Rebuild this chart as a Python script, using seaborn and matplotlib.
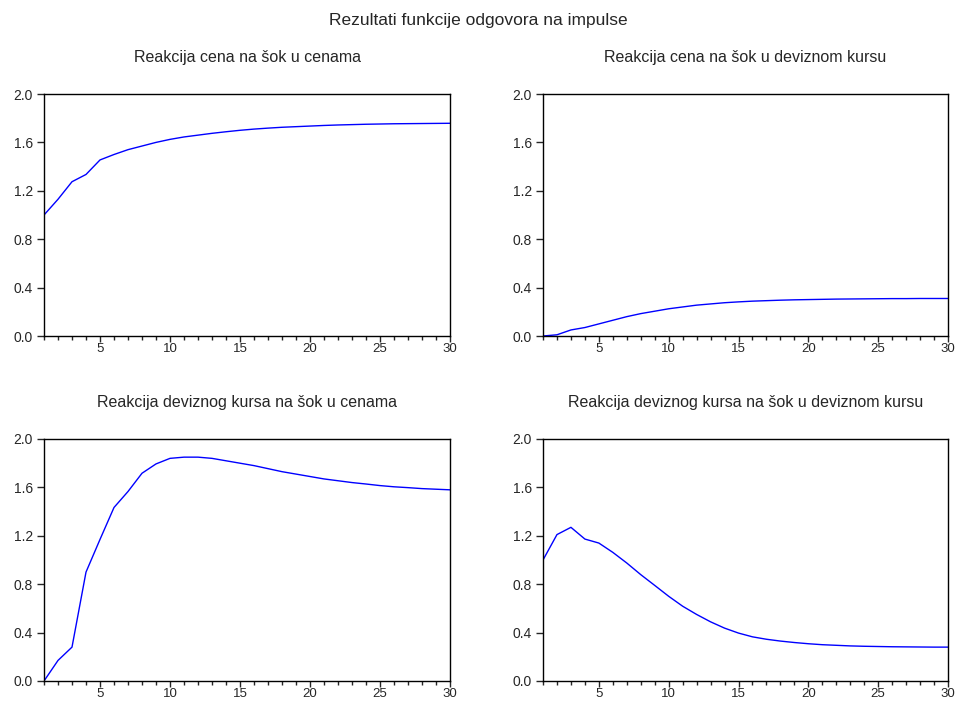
import numpy as np
import matplotlib
matplotlib.use("Agg")
import matplotlib.pyplot as plt
import seaborn as sns
import pandas as pd
from matplotlib.ticker import MultipleLocator

periods = list(range(1, 31))

cena_na_cene = [1.00, 1.13, 1.275, 1.335, 1.455, 1.50, 1.54, 1.57, 1.60, 1.625,
                1.645, 1.66, 1.675, 1.688, 1.70, 1.71, 1.718, 1.725, 1.73, 1.735,
                1.74, 1.744, 1.747, 1.75, 1.752, 1.754, 1.755, 1.756, 1.757, 1.758]
cena_na_kurs = [0.00, 0.01, 0.05, 0.07, 0.10, 0.13, 0.16, 0.185, 0.205, 0.225,
                0.24, 0.255, 0.265, 0.275, 0.282, 0.288, 0.292, 0.296, 0.299, 0.301,
                0.303, 0.305, 0.306, 0.307, 0.308, 0.309, 0.309, 0.31, 0.31, 0.31]
kurs_na_cene = [0.00, 0.17, 0.28, 0.90, 1.17, 1.434, 1.566, 1.717, 1.794, 1.84,
                1.85, 1.85, 1.84, 1.82, 1.80, 1.78, 1.755, 1.73, 1.71, 1.69,
                1.67, 1.655, 1.64, 1.628, 1.615, 1.605, 1.598, 1.59, 1.585, 1.58]
kurs_na_kurs = [1.00, 1.21, 1.27, 1.173, 1.14, 1.063, 0.975, 0.879, 0.79, 0.70,
                0.618, 0.55, 0.489, 0.437, 0.396, 0.365, 0.345, 0.33, 0.318, 0.308,
                0.30, 0.295, 0.29, 0.287, 0.285, 0.283, 0.282, 0.281, 0.28, 0.28]

titles = ["Reakcija cena na šok u cenama",
          "Reakcija cena na šok u deviznom kursu",
          "Reakcija deviznog kursa na šok u cenama",
          "Reakcija deviznog kursa na šok u deviznom kursu"]
series = [cena_na_cene, cena_na_kurs, kurs_na_cene, kurs_na_kurs]

sns.set_style("ticks")
plt.rcParams['font.family'] = ['Liberation Sans', 'DejaVu Sans']

W, H = 957, 704
fig = plt.figure(figsize=(W / 100, H / 100), dpi=100)

# axes boxes in pixels: left, right, top, bottom
boxes = [(44, 450, 94, 336), (543, 948, 94, 336),
         (44, 450, 439, 681), (543, 948, 439, 681)]

for (l, r, t, b), title, vals in zip(boxes, titles, series):
    ax = fig.add_axes([l / W, 1 - b / H, (r - l) / W, (b - t) / H])
    df = pd.DataFrame({"period": periods, "value": vals})
    sns.lineplot(data=df, x="period", y="value", ax=ax, color="#0000ff", linewidth=1)
    ax.set_xlim(1, 30)
    ax.set_ylim(0, 2.0)
    ax.set_xticks([5, 10, 15, 20, 25, 30])
    ax.xaxis.set_minor_locator(MultipleLocator(1))
    ax.set_yticks([0.0, 0.4, 0.8, 1.2, 1.6, 2.0])
    ax.yaxis.set_major_formatter(matplotlib.ticker.FormatStrFormatter("%.1f"))
    ax.set_xlabel("")
    ax.set_ylabel("")
    ax.set_title(title, fontsize=11.5, pad=23)
    for s in ax.spines.values():
        s.set_visible(True)
        s.set_linewidth(1)
        s.set_color("black")
    ax.tick_params(axis="y", which="major", labelsize=10, length=5, width=1, direction="out", pad=3)
    ax.tick_params(axis="x", which="major", labelsize=9.5, length=4, width=1, direction="out", pad=1)
    ax.tick_params(axis="x", which="minor", length=3, width=1, direction="out")

fig.suptitle("Rezultati funkcije odgovora na impulse", y=1 - 20 / H, fontsize=12.5, va="center")

fig.savefig("out.png", dpi=100)
